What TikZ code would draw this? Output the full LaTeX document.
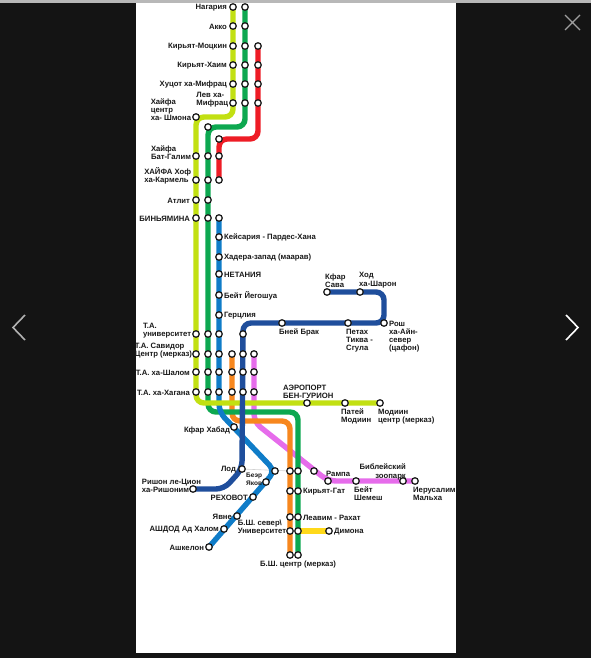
\documentclass[tikz,border=0pt]{standalone}
\usepackage{fontspec}
\setmainfont{Liberation Sans}
\usetikzlibrary{positioning}
\definecolor{pagedark}{HTML}{141414}
\definecolor{linelime}{HTML}{C2E012}
\definecolor{linegreen}{HTML}{0DA850}
\definecolor{linered}{HTML}{EE1C25}
\definecolor{lineblue}{HTML}{0F7CC8}
\definecolor{linenavy}{HTML}{1F4E9C}
\definecolor{lineorange}{HTML}{F7871E}
\definecolor{linepink}{HTML}{E66CEB}
\definecolor{lineyellow}{HTML}{FFD91A}
\pgfdeclarelayer{tracks}
\pgfsetlayers{tracks,main}
\begin{document}
\begin{tikzpicture}[
  x=1pt, y=-1pt,
  font=\bfseries\fontsize{7.7}{8.2}\selectfont,
  stn/.style={circle, draw=black!90, fill=white, line width=1.25pt, minimum size=6.5pt, inner sep=0pt},
  lbl/.style={text=black!90, inner sep=0pt, align=left, yshift=-.8pt},
  track/.style={line width=5.4pt, rounded corners=8pt},
]
\useasboundingbox (0,0) rectangle (591,658);

% stations
\foreach \name/\x/\y in {
  nag/233/7, ako/233/26, mot/233/46, hai/233/65, huz/233/84, lev/233/103, shm/196/117,
  gnag/245/7, gako/245/26, gmot/245/46, ghai/245/65, ghuz/245/84, glev/245/103, gtop/208/127,
  rmot/258/46, rhai/258/65, rhuz/258/84, rlev/258/103, rtop/219/139,
  bat/196/156, gbat/208/156, rbat/219/156, hof/196/180, ghof/208/180, rhof/219/180,
  atl/196/200, gatl/208/200, bin/196/218, gbin/208/218, bbin/219/218,
  kei/219/237, had/219/257, net/219/274, bei/219/295, ger/219/315,
  uni/196/334, guni/208/334, buni/219/334, nuni/243/334,
  sav/196/354, gsav/208/354, bsav/219/354, osav/232/354, nsav/243/354, psav/254/354,
  sha/196/372, gsha/208/372, bsha/219/372, osha/232/372, nsha/243/372, psha/254/372,
  hag/196/392, ghag/208/392, bhag/219/392, ohag/232/392, nhag/243/392, phag/254/392,
  bne/282/323, pet/348/323, rosh/384/323, hod/360/292, kfs/327/292,
  aer/307/403, pat/345/403, mod/380/403,
  hab/234/427, lod/242/469, ris/193/489, jun/275/471, yak/266/482, reh/253/497,
  yav/237/516, ash/224/529, akl/209/547,
  ogat/290/471, ggat/298/471, okir/290/491, gkir/298/491, olea/290/517, glea/298/517,
  osev/290/531, gsev/298/531, ocen/290/555, gcen/298/555, dim/329/531,
  pjun/314/471, ram/328/481, she/356/481, zoo/403/481, jer/415/481%
} {
  \node[stn] (\name) at (\x,\y) {};
}

% lines
\begin{pgfonlayer}{tracks}
\fill[pagedark] (0,0) rectangle (591,658);
\fill[black!28] (0,0) rectangle (591,3);
\fill[white] (136,3) rectangle (456,653);
\draw[black!18, line width=.6pt] (lod.center) -- (ogat.center);
\draw[track, linepink] (psav.center) -- (254,422) -- (ram.center) -- (jer.center);
\draw[track, lineorange] (osav.center) |- (290,421) -- (ocen.center);
\draw[track, linegreen] (gnag.center) |- (gtop.center) -- (208,412) -| (gcen.center);
\draw[track, linered] (rmot.center) |- (rtop.center) -- (rhof.center);
\draw[track, lineyellow] (gsev.center) -- (dim.center);
\draw[track, lineblue] (bbin.center) -- (219,412) -- (jun.center) -- (akl.center);
\draw[track, linelime] (nag.center) |- (shm.center) -- (196,403) -- (mod.center);
\draw[track, linenavy] (kfs.center) -- (384,292) -- (rosh.center) -- (243,323) -- (lod.center) -- (224,489) -- (ris.center);
\end{pgfonlayer}

% labels on the left side
\node[lbl, left=2pt of nag] (lnag) {Нагария};
\node[lbl, left=2pt of ako] (lako) {Акко};
\node[lbl, left=2pt of mot] (lmot) {Кирьят-Моцкин};
\node[lbl, left=2pt of hai] (lhai) {Кирьят-Хаим};
\node[lbl, left=2pt of huz] (lhuz) {Хуцот ха-Мифрац};
\node[lbl, above left=-6pt and 2pt of lev] (llev) {Лев ха-\\Мифрац};
\node[lbl, above left=-6pt and 2pt of shm] (lshm) {Хайфа\\центр\\ха- Шмона};
\node[lbl, above left=-6pt and 2pt of bat] (lbat) {Хайфа\\Бат-Галим};
\node[lbl, above left=-6pt and 2pt of hof] (lhof) {ХАЙФА Хоф\\ха-Кармель};
\node[lbl, left=2pt of atl] (latl) {Атлит};
\node[lbl, left=2pt of bin] (lbin) {БИНЬЯМИНА};
\node[lbl, above left=-6pt and 2pt of uni] (luni) {Т.А.\\университет};
\node[lbl, above left=-6pt and 1pt of sav] (lsav) {Т.А. Савидор\\Центр (мерказ)};
\node[lbl, left=2pt of sha] (lsha) {Т.А. ха-Шалом};
\node[lbl, left=2pt of hag] (lhag) {Т.А. ха-Хагана};

% labels on the right side
\node[lbl, right=1pt of kei] (lkei) {Кейсария - Пардес-Хана};
\node[lbl, right=1pt of had] (lhad) {Хадера-запад (маарав)};
\node[lbl, right=1pt of net] (lnet) {НЕТАНИЯ};
\node[lbl, right=1pt of bei] (lbei) {Бейт Йегошуа};
\node[lbl, right=1pt of ger] (lger) {Герцлия};
\node[lbl, anchor=north west] (lbne) at ([xshift=-3pt,yshift=-1pt]bne.south) {Бней Брак};
\node[lbl, anchor=north west] (lpet) at ([xshift=-2pt,yshift=-1pt]pet.south) {Петах\\Тиква -\\Сгула};
\node[lbl, anchor=north west] (lrosh) at ([xshift=1pt,yshift=3pt]rosh.east) {Рош\\ха-Айн-\\север\\(цафон)};
\node[lbl, anchor=south west] (lkfs) at ([xshift=-2pt,yshift=1pt]kfs.north) {Кфар\\Сава};
\node[lbl, anchor=south west] (lhod) at ([xshift=-1pt,yshift=1pt]hod.north) {Ход\\ха-Шарон};
\node[lbl, anchor=south west] (laer) at ([xshift=-24pt,yshift=1pt]aer.north) {АЭРОПОРТ\\БЕН-ГУРИОН};
\node[lbl, anchor=north west] (lpat) at ([xshift=-4pt,yshift=-1pt]pat.south) {Патей\\Модиин};
\node[lbl, anchor=north west] (lmod) at ([xshift=-2pt,yshift=-1pt]mod.south) {Модиин\\центр (мерказ)};

% labels in the south
\node[lbl, left=0pt of hab, yshift=-3pt] (lhab) {Кфар Хабад};
\node[lbl, left=2pt of lod] (llod) {Лод};
\node[lbl, above left=-6pt and -11pt of ris] (lris) {Ришон ле-Цион\\ ха-Ришоним};
\node[lbl, font=\bfseries\fontsize{6.5}{8}\selectfont, above left=-6pt and 1pt of yak] (lyak) {Беэр\\Яков};
\node[lbl, left=1pt of reh] (lreh) {РЕХОВОТ};
\node[lbl, left=1pt of yav] (lyav) {Явне};
\node[lbl, left=1pt of ash] (lash) {АШДОД Ад Халом};
\node[lbl, left=1pt of akl] (lakl) {Ашкелон};
\node[lbl, above left=-6pt and 1pt of osev] (lsev) {Б.Ш. север\textbackslash\\Университет};
\node[lbl, anchor=north] (lcen) at ([xshift=8pt,yshift=-1pt]ocen.south) {Б.Ш. центр (мерказ)};
\node[lbl, right=1pt of gkir] (lkir) {Кирьят-Гат};
\node[lbl, right=1pt of glea] (llea) {Леавим - Рахат};
\node[lbl, right=1pt of dim] (ldim) {Димона};
\node[lbl, anchor=south west] (lram) at ([xshift=-2pt,yshift=1pt]ram.north) {Рампа};
\node[lbl, anchor=north west] (lshe) at ([xshift=-2pt,yshift=-1pt]she.south) {Бейт\\Шемеш};
\node[lbl, align=right, anchor=south east] (lzoo) at ([xshift=3pt,yshift=-2pt]zoo.north) {Библейский\\зоопарк};
\node[lbl, anchor=north west] (ljer) at ([xshift=-2pt,yshift=-1pt]jer.south) {Иерусалим\\Мальха};

% gallery controls
\draw[black!38, line width=1.2pt] (565,15) -- (580,30) (580,15) -- (565,30);
\draw[black!30, line width=1.6pt] (25,315) -- (13,327.5) -- (25,340);
\draw[white, line width=1.6pt] (566,315) -- (578,327.5) -- (566,340);
\end{tikzpicture}
\end{document}
